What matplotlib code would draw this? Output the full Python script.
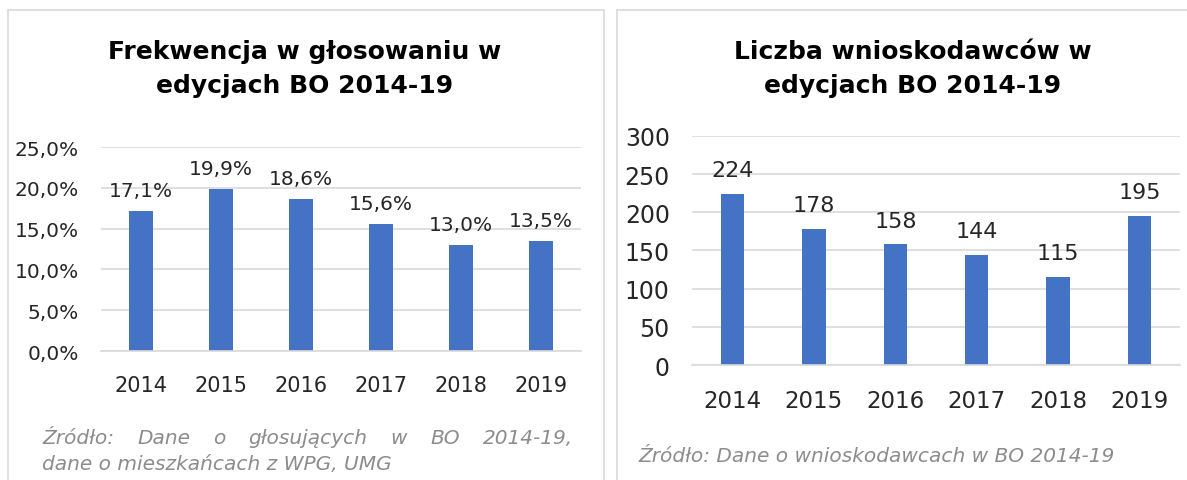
import matplotlib
matplotlib.use("Agg")
import matplotlib.pyplot as plt
from matplotlib.patches import Rectangle

# data
years = ["2014", "2015", "2016", "2017", "2018", "2019"]
turnout = [17.1, 19.9, 18.6, 15.6, 13.0, 13.5]
applicants = [224, 178, 158, 144, 115, 195]

title_left = "Frekwencja w głosowaniu w\nedycjach BO 2014-19"
title_right = "Liczba wnioskodawców w\nedycjach BO 2014-19"
source_left = ["Źródło: Dane o głosujących w BO 2014-19,",
               "dane o mieszkańcach z WPG, UMG"]
source_right = "Źródło: Dane o wnioskodawcach w BO 2014-19"

BAR = "#4472C4"
GRID = "#d9d9d9"
TXT = "#262626"
SRC = "#8c8c8c"

plt.rcParams["font.family"] = ["DejaVu Sans"]

W, H = 1187, 481
fig = plt.figure(figsize=(W / 100, H / 100), dpi=100)


def box(x0, y0, x1, y1):
    return [x0 / W, 1 - y1 / H, (x1 - x0) / W, (y1 - y0) / H]


# panel frames
for x0, x1 in [(8, 604), (617, 1200)]:
    fig.patches.append(Rectangle((x0 / W, -0.1), (x1 - x0) / W, 1 - 11 / H + 0.1,
                                 transform=fig.transFigure, fill=False,
                                 edgecolor="#d9d9d9", linewidth=1.2))


def style(ax, fs_y, fs_x):
    for s in ["top", "right", "left"]:
        ax.spines[s].set_visible(False)
    ax.spines["bottom"].set_color(GRID)
    ax.spines["bottom"].set_linewidth(1.2)
    ax.yaxis.grid(True, color=GRID, linewidth=1.2)
    ax.set_axisbelow(True)
    ax.tick_params(length=0, labelcolor=TXT)
    ax.tick_params(axis="x", pad=17, labelsize=fs_x)
    ax.tick_params(axis="y", pad=16, labelsize=fs_y)


# left chart
ax1 = fig.add_axes(box(101, 148, 581, 352))
x = range(len(years))
ax1.bar(x, turnout, width=0.31, color=BAR)
ax1.set_ylim(0, 25)
ax1.set_xlim(-0.5, 5.5)
ax1.set_yticks([0, 5, 10, 15, 20, 25])
ax1.set_yticklabels([f"{v:.1f}%".replace(".", ",") for v in [0, 5, 10, 15, 20, 25]])
ax1.set_xticks(list(x))
ax1.set_xticklabels(years)
style(ax1, 14.5, 15)
for i, v in enumerate(turnout):
    ax1.annotate(f"{v:.1f}%".replace(".", ","), (i, v), xytext=(0, 8),
                 textcoords="offset points", ha="center", va="bottom",
                 fontsize=14.5, color=TXT)
fig.text(305 / W, 1 - 69 / H, title_left, ha="center", va="center",
         fontsize=18, fontweight="bold", color="black", linespacing=1.5)

# justified first source line
words = source_left[0].split(" ")
renderer = fig.canvas.get_renderer()
tx = []
for w_ in words:
    t = fig.text(0, 1 - 438 / H, w_, ha="left", va="center",
                 fontsize=14.5, style="italic", color=SRC)
    tx.append(t)
widths = [t.get_window_extent(renderer).width for t in tx]
gap = (573 - 42 - sum(widths)) / (len(words) - 1)
pos = 42
for t, wd in zip(tx, widths):
    t.set_x(pos / W)
    pos += wd + gap
fig.text(42 / W, 1 - 465 / H, source_left[1], ha="left", va="center",
         fontsize=14.5, style="italic", color=SRC)

# right chart
ax2 = fig.add_axes(box(692, 137, 1180, 366))
ax2.bar(x, applicants, width=0.285, color=BAR)
ax2.set_ylim(0, 300)
ax2.set_xlim(-0.5, 5.5)
ax2.set_yticks(range(0, 301, 50))
ax2.set_xticks(list(x))
ax2.set_xticklabels(years)
style(ax2, 17, 16.5)
for i, v in enumerate(applicants):
    ax2.annotate(str(v), (i, v), xytext=(0, 10),
                 textcoords="offset points", ha="center", va="bottom",
                 fontsize=16, color=TXT)
fig.text(913 / W, 1 - 69 / H, title_right, ha="center", va="center",
         fontsize=18, fontweight="bold", color="black", linespacing=1.5)
fig.text(638 / W, 1 - 457 / H, source_right, ha="left", va="center",
         fontsize=14.5, style="italic", color=SRC)

fig.savefig("out.png", dpi=100, facecolor="white")
